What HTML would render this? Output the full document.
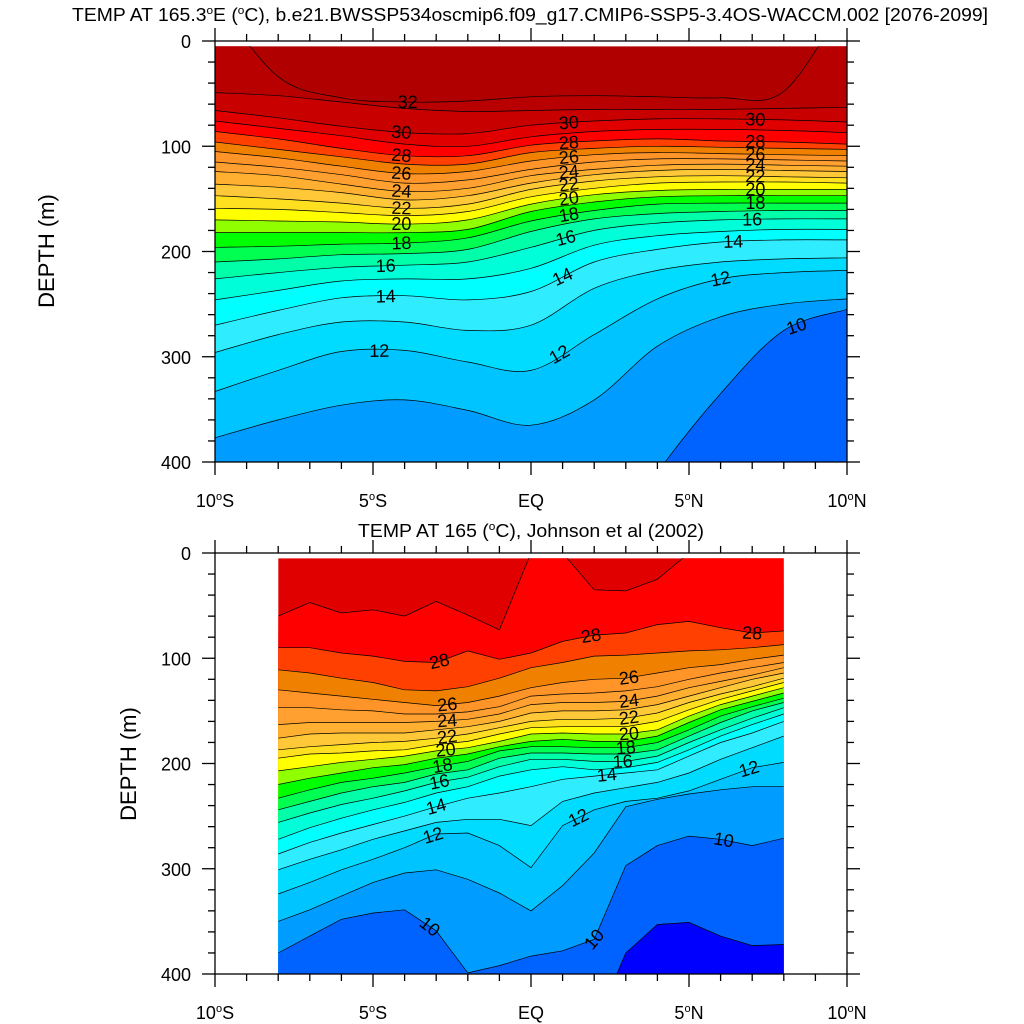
<!DOCTYPE html>
<html><head><meta charset="utf-8"><style>
html,body{margin:0;padding:0;background:#fff}
svg{display:block;font-family:"Liberation Sans",Arial,sans-serif}
</style></head><body>
<svg id="chart" width="1024" height="1024" viewBox="0 0 1024 1024" xmlns="http://www.w3.org/2000/svg">
<rect x="0" y="0" width="1024" height="1024" fill="#fff"/>
<text x="72" y="21" font-size="18" textLength="916" lengthAdjust="spacingAndGlyphs">TEMP AT 165.3<tspan font-size="11" dy="-7">o</tspan><tspan dy="7">E (</tspan><tspan font-size="11" dy="-7">o</tspan><tspan dy="7">C), b.e21.BWSSP534oscmip6.f09_g17.CMIP6-SSP5-3.4OS-WACCM.002 [2076-2099]</tspan></text>
<text x="358" y="537" font-size="18" textLength="346" lengthAdjust="spacingAndGlyphs">TEMP AT 165 (<tspan font-size="11" dy="-7">o</tspan><tspan dy="7">C), Johnson et al (2002)</tspan></text>
<text transform="translate(54,251) rotate(-90)" text-anchor="middle" font-size="22">DEPTH (m)</text>
<text transform="translate(136,764) rotate(-90)" text-anchor="middle" font-size="22">DEPTH (m)</text>
<g id="topPanel"></g>
<g id="botPanel"></g>
</svg>
<script>
// ---------- data ----------
const topLats = [-10,-8,-6,-4,-2,0,2,4,6,8,10];
const topLevels = [32,31,30,29,28,27,26,25,24,23,22,21,20,19,18,17,16,15,14,13,12,11,10];
const topDepths = [
 [-40,34,54,58,57,53,52,53,54,48,-40],
 [49,52,58,64,67,66,65,65,65,64,63],
 [66,73,81,87,88,80,76,74,74,75,77],
 [76,83,90,98,100,91,86,84,84,85,87],
 [86,93,102,109,109,99,95,93,95,96,98],
 [96,103,110,117,117,106,102,100,101,102,103],
 [105,111,119,126,124,114,108,106,107,108,109],
 [115,120,127,135,132,122,115,112,112,113,114],
 [124,128,136,143,140,128,122,118,117,118,119],
 [136,139,144,151,147,135,127,123,122,123,124],
 [147,150,154,159,155,141,133,129,128,129,130],
 [159,160,163,166,162,148,140,135,134,134,135],
 [170,171,172,174,170,155,146,142,141,141,141],
 [182,182,182,182,179,162,153,148,147,147,147],
 [196,195,193,192,187,171,161,155,154,154,154],
 [210,207,203,202,198,181,169,164,162,161,161],
 [226,220,215,213,210,196,180,173,170,169,169],
 [246,237,228,226,226,216,194,185,181,179,179],
 [270,256,244,242,246,238,210,198,191,189,189],
 [296,279,267,267,275,270,235,218,210,207,206],
 [333,313,295,294,305,313,279,245,226,220,218],
 [377,360,346,341,351,365,341,290,262,250,245],
 [500,500,500,500,500,500,500,410,335,275,255]
];
const topLabelLevels = [32,30,30,30,28,28,28,26,26,26,24,24,24,22,22,22,20,20,20,18,18,18,16,16,16,14,14,14,12,12,12,10];
const topLabelLats   = [-3.9,-4.1,1.2,7.1,-4.1,1.2,7.1,-4.1,1.2,7.1,-4.1,1.2,7.1,-4.1,1.2,7.1,-4.1,1.2,7.1,-4.1,1.2,7.1,-4.6,1.1,7.0,-4.6,1.0,6.4,-4.8,0.9,6.0,8.4];

const botLats = [-8,-7,-6,-5,-4,-3,-2,-1,0,1,2,3,4,5,6,7,8];
const botLevels = [29,28,27,26,25,24,23,22,21,20,19,18,17,16,15,14,13,12,11,10,9];
const botDepths = [
 [60,47,57,54,60,46,59,73,0,0,35,36,25,0,0,0,0],
 [90,90,95,98,103,104,93,101,95,84,78,76,68,65,71,76,74],
 [111,114,119,123,130,131,127,119,109,104,98,97,95,93,92,90,87],
 [130,133,136,139,142,145,142,136,128,123,120,119,114,109,106,101,97],
 [147,147,149,150,153,153,151,146,136,134,133,131,127,120,114,109,104],
 [163,161,161,161,161,160,158,153,144,142,142,141,136,128,122,116,109],
 [176,172,171,171,171,168,165,160,152,150,150,149,144,136,128,120,114],
 [187,184,182,180,179,176,172,166,160,158,158,157,152,142,134,127,119],
 [195,191,190,188,187,182,179,172,166,165,165,165,160,149,139,131,123],
 [207,203,199,196,193,188,185,179,172,171,172,172,168,155,144,136,128],
 [220,214,209,204,201,195,191,184,179,177,179,179,174,161,149,141,133],
 [233,225,218,214,209,203,198,188,184,184,185,185,180,168,155,146,138],
 [244,236,228,222,218,210,206,195,190,190,191,191,187,174,161,150,142],
 [256,247,239,233,226,218,213,203,196,196,198,198,193,180,168,157,147],
 [272,261,252,244,237,228,222,212,206,203,206,204,199,187,174,163,153],
 [286,275,266,258,250,241,233,228,222,215,212,209,206,193,180,171,160],
 [301,291,282,272,264,256,253,253,259,236,228,223,218,209,196,185,174],
 [324,313,301,291,280,267,266,278,299,259,244,236,233,226,215,204,199],
 [350,339,326,313,304,301,310,323,340,316,285,241,234,229,225,222,222],
 [380,364,348,342,339,359,399,392,383,378,367,297,278,269,272,278,271],
 [450,450,450,450,450,450,450,450,450,450,450,380,353,351,364,373,372]
];
const botLabelLevels = [28,26,24,22,20,18,16,14,12,10,28,26,24,22,20,18,16,14,12,10,28,12,10];
const botLabelLats   = [-2.9,-2.65,-2.65,-2.65,-2.7,-2.8,-2.9,-3.0,-3.1,-3.2,1.9,3.1,3.1,3.1,3.1,3.0,2.9,2.4,1.5,2.0,7.0,6.9,6.1];

const topBaseColor = '#b00000';
const botBaseColor = '#e00000';
const levelColors = {32:'#b80000',31:'#c80000',30:'#e00000',29:'#ff0000',28:'#ff4000',27:'#f08000',26:'#ff9428',25:'#ffa030',24:'#ffb030',23:'#ffc838',22:'#ffe020',21:'#ffff00',20:'#90ff00',19:'#00ff00',18:'#00ff50',17:'#00ffa8',16:'#00ffd8',15:'#00ffff',14:'#30ecff',13:'#00dcff',12:'#00c4ff',11:'#009cff',10:'#0062ff',9:'#0000ff'};
const xTickLabels = ['10°S','5°S','EQ','5°N','10°N'];
const xTickLats = [-10,-5,0,5,10];
const yTickValues = [0,100,200,300,400];

// ---------- drawing ----------
const NS='http://www.w3.org/2000/svg';
function mk(tag, attrs, parent){const e=document.createElementNS(NS,tag);for(const k in attrs)e.setAttribute(k,attrs[k]);if(parent)parent.appendChild(e);return e;}

function drawPanel(g, id, cfg){
  const X=lat=>cfg.x0+(lat+10)*(cfg.x1-cfg.x0)/20;
  const Y=d=>cfg.y0+d*(cfg.y1-cfg.y0)/400;
  const dx0=X(cfg.lats[0]), dx1=X(cfg.lats[cfg.lats.length-1]), dy0=Y(5), dy1=Y(400);
  const clip=mk('clipPath',{id:'clip'+id},g);
  mk('rect',{x:dx0,y:dy0,width:dx1-dx0,height:dy1-dy0},clip);
  const data=mk('g',{'clip-path':'url(#clip'+id+')'},g);
  
  
  const base=mk('rect',{x:dx0,y:dy0,width:dx1-dx0,height:dy1-dy0,fill:cfg.base},data);
  
  
  function curve(row){
    const p=cfg.lats.map((la,i)=>[X(la),Y(row[i])]);
    if(!cfg.smooth) return 'M'+p.map(q=>q[0].toFixed(1)+','+q[1].toFixed(1)).join(' L');
    let s='M'+p[0][0].toFixed(1)+','+p[0][1].toFixed(1);
    for(let i=0;i<p.length-1;i++){
      const a=p[Math.max(i-1,0)],b=p[i],c=p[i+1],d=p[Math.min(i+2,p.length-1)];
      const c1=[b[0]+(c[0]-a[0])/6,b[1]+(c[1]-a[1])/6];
      const c2=[c[0]-(d[0]-b[0])/6,c[1]-(d[1]-b[1])/6];
      s+=' C'+c1[0].toFixed(1)+','+c1[1].toFixed(1)+' '+c2[0].toFixed(1)+','+c2[1].toFixed(1)+' '+c[0].toFixed(1)+','+c[1].toFixed(1);
    }
    return s;
  }
  const curves=cfg.depths.map(curve);
  cfg.levels.forEach((lv,k)=>{
    const f=mk('path',{d:curves[k]+' L'+(dx1+2)+','+(dy1+5)+' L'+(dx0-2)+','+(dy1+5)+' Z',fill:levelColors[lv],stroke:'none'},data);
    
    
  });
  cfg.levels.forEach((lv,k)=>{
    const l=mk('path',{d:curves[k],fill:'none',stroke:'#000','stroke-width':0.7},data);
    
    
  });
  function depthAt(k,lat){
    const L=cfg.lats,r=cfg.depths[k];
    for(let i=0;i<L.length-1;i++){ if(lat>=L[i]&&lat<=L[i+1]){const t=(lat-L[i])/(L[i+1]-L[i]);return r[i]+t*(r[i+1]-r[i]);} }
    return r[r.length-1];
  }
  cfg.labLevels.forEach((lv,i)=>{
    const k=cfg.levels.indexOf(lv); const la=cfg.labLats[i];
    const d=depthAt(k,la); const d2=depthAt(k,la+0.3), d1=depthAt(k,la-0.3);
    let ang=Math.atan2(Y(d2)-Y(d1),X(la+0.3)-X(la-0.3))*180/Math.PI;
    if(ang>50)ang=50; if(ang<-50)ang=-50;
    const t=mk('text',{x:X(la),y:Y(d)+6,'font-size':18,'text-anchor':'middle',transform:'rotate('+ang.toFixed(1)+' '+X(la).toFixed(1)+' '+Y(d).toFixed(1)+')'},data);
    t.textContent=String(lv);
    
    
  });
  const ax=mk('g',{stroke:'#000','stroke-width':1.3,fill:'none'},g);
  
  
  mk('rect',{x:cfg.x0,y:cfg.y0,width:cfg.x1-cfg.x0,height:cfg.y1-cfg.y0},ax);
  for(let la=-10;la<=10;la++){
    const len=(la%5===0)?13:7;
    mk('line',{x1:X(la),y1:cfg.y1,x2:X(la),y2:cfg.y1+len},ax);
    mk('line',{x1:X(la),y1:cfg.y0,x2:X(la),y2:cfg.y0-len},ax);
  }
  for(let d=0;d<=400;d+=20){
    const len=(d%100===0)?13:7;
    mk('line',{x1:cfg.x0,y1:Y(d),x2:cfg.x0-len,y2:Y(d)},ax);
    mk('line',{x1:cfg.x1,y1:Y(d),x2:cfg.x1+len,y2:Y(d)},ax);
  }
  yTickValues.forEach(v=>{
    const t=mk('text',{x:cfg.x0-24,y:Y(v)+7,'font-size':18,'text-anchor':'end'},g);
    t.textContent=String(v);
    
    
  });
  xTickLabels.forEach((s,i)=>{
    const t=mk('text',{x:X(xTickLats[i]),y:cfg.y1+45,'font-size':18,'text-anchor':'middle'},g);
    if(s.indexOf('°')>=0){
      const parts=s.split('°');
      t.appendChild(document.createTextNode(parts[0]));
      const sup=mk('tspan',{'font-size':11,dy:-7},t); sup.textContent='o';
      const rest=mk('tspan',{dy:7},t); rest.textContent=parts[1];
    } else t.textContent=s;
    
    
  });
}

drawPanel(document.getElementById('topPanel'),'top',{x0:215,x1:847,y0:41,y1:462,lats:topLats,levels:topLevels,depths:topDepths,base:topBaseColor,smooth:true,labLevels:topLabelLevels,labLats:topLabelLats});
drawPanel(document.getElementById('botPanel'),'bottom',{x0:215,x1:847,y0:553,y1:974,lats:botLats,levels:botLevels,depths:botDepths,base:botBaseColor,smooth:false,labLevels:botLabelLevels,labLats:botLabelLats});
</script>
</body></html>
